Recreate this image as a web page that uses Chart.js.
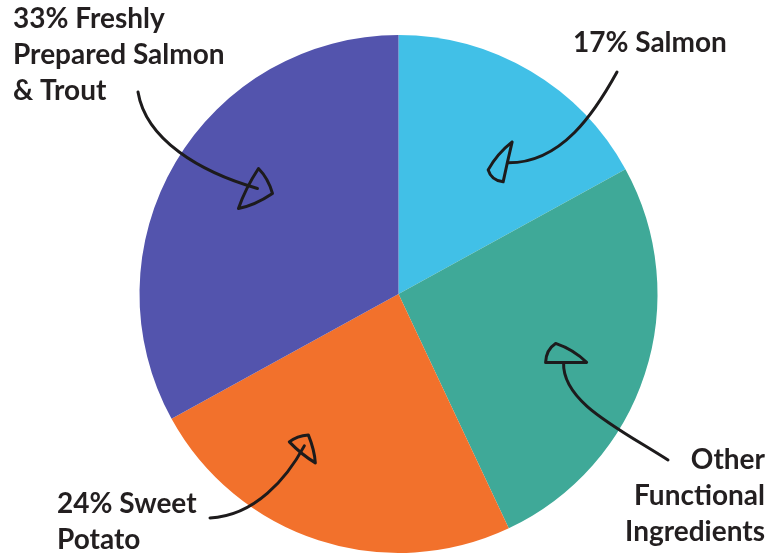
<!DOCTYPE html>
<html>
<head>
<meta charset="utf-8">
<script src="https://cdn.jsdelivr.net/npm/chart.js@4"></script>
<style>
  html, body { margin: 0; padding: 0; background: #fff; overflow: hidden; }
  canvas { display: block; }
</style>
</head>
<body>
<canvas id="ingredientes" width="784" height="555"></canvas>
<script>
// data (clockwise from the top)
var labels = ['17% Salmon', 'Other Functional Ingredients', '24% Sweet Potato', '33% Freshly Prepared Salmon & Trout'];
var shares = [17, 26, 24, 33];
var colors = ['#41c0e7', '#3fa998', '#f2712c', '#5354ad'];

// callout text lines, one list per slice
var calloutLines = [
  ['17% Salmon'],
  ['Other', 'Functional', 'Ingredients'],
  ['24% Sweet', 'Potato'],
  ['33% Freshly', 'Prepared Salmon', '& Trout']
];

// layout of the callouts (text anchor, arrow curve, head shape)
var callouts = [
  { x: 573, y: 52, align: 'left', angleOff: 9.3, rFrac: 0.66,
    start: [617, 72], c1: [595, 112], c2: [562, 163],
    head: [[4, -21], [-20, 7], [-5, 19]] },
  { x: 765, y: 469, align: 'right', angleOff: 4.5, rFrac: 0.69,
    start: [668, 460], c1: [618, 428], c2: [562, 402],
    head: [[-8, -19], [23, 0], [-18, 0]] },
  { x: 57, y: 513, align: 'left', angleOff: 13.8, rFrac: 0.69,
    start: [210, 518], c1: [255, 516], c2: [287, 478],
    head: [[-15, -4], [4, -11], [11, 17]] },
  { x: 13, y: 28, align: 'left', angleOff: 6.2, rFrac: 0.68,
    start: [138, 92], c1: [146, 140], c2: [200, 172],
    head: [[1, -20], [15, 5], [-19, 20]] }
];
var lineGap = 36;

var calloutPlugin = {
  id: 'callouts',
  afterDraw: function (chart) {
    var c = chart.ctx;
    var arcs = chart.getDatasetMeta(0).data;
    c.save();
    c.strokeStyle = '#1d1b1c';
    c.fillStyle = '#231f20';
    c.lineWidth = 3;
    c.lineCap = 'round';
    c.lineJoin = 'round';
    c.font = 'bold 28px Lato, "DejaVu Sans", sans-serif';
    arcs.forEach(function (arc, i) {
      var cfg = callouts[i];
      var mid = (arc.startAngle + arc.endAngle) / 2 + cfg.angleOff * Math.PI / 180;
      var r = arc.outerRadius * cfg.rFrac;
      var tx = arc.x + r * Math.cos(mid);
      var ty = arc.y + r * Math.sin(mid);

      // shaft
      c.beginPath();
      c.moveTo(cfg.start[0], cfg.start[1]);
      c.bezierCurveTo(cfg.c1[0], cfg.c1[1], cfg.c2[0], cfg.c2[1], tx, ty);
      c.stroke();

      // hand drawn head
      var h = cfg.head;
      c.beginPath();
      c.moveTo(tx + h[0][0], ty + h[0][1]);
      for (var k = 1; k <= h.length; k++) {
        var p = h[(k - 1) % h.length], q = h[k % h.length];
        var mx = (p[0] + q[0]) / 2, my = (p[1] + q[1]) / 2;
        // bulge a little outward
        var bx = mx * 1.35, by = my * 1.35;
        c.quadraticCurveTo(tx + bx, ty + by, tx + q[0], ty + q[1]);
      }
      c.closePath();
      c.stroke();

      // text
      c.textAlign = cfg.align;
      c.textBaseline = 'alphabetic';
      calloutLines[i].forEach(function (t, j) {
        c.fillText(t, cfg.x, cfg.y + j * lineGap);
      });
    });
    c.restore();
  }
};

new Chart(document.getElementById('ingredientes'), {
  type: 'pie',
  data: {
    labels: labels,
    datasets: [{
      data: shares,
      backgroundColor: colors,
      borderWidth: 0
    }]
  },
  options: {
    responsive: false,
    animation: false,
    layout: { padding: { top: 35, bottom: 2, left: 13, right: 0 } },
    plugins: {
      legend: { display: false },
      tooltip: { enabled: false }
    }
  },
  plugins: [calloutPlugin]
});
</script>
</body>
</html>
